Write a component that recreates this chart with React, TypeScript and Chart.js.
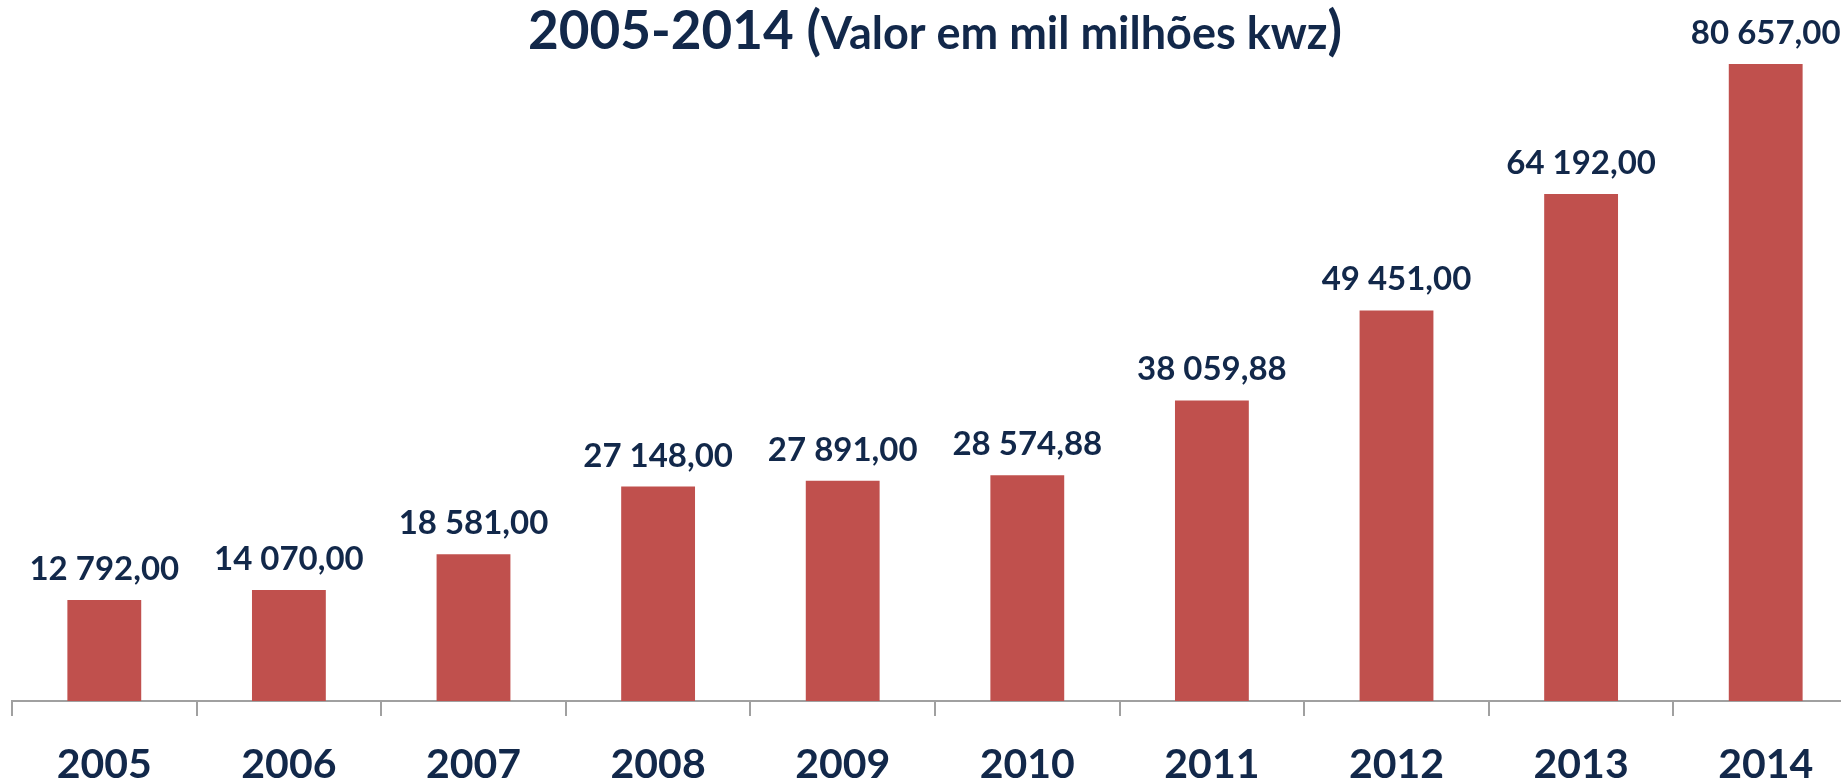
import React, { useEffect, useRef } from "react";
import { Chart, registerables } from "chart.js";

Chart.register(...registerables);

const years = ["2005", "2006", "2007", "2008", "2009", "2010", "2011", "2012", "2013", "2014"];
const values = [12792.0, 14070.0, 18581.0, 27148.0, 27891.0, 28574.88, 38059.88, 49451.0, 64192.0, 80657.0];
const titleMain = "2005-2014 (";
const titleSub = "Valor em mil milhões kwz";
const titleEnd = ")";

const TEXT = "#12284A";
const BAR = "#C0504D";
const FONT = "Lato, 'Open Sans', sans-serif";

function fmt(v: number): string {
  const [i, d] = v.toFixed(2).split(".");
  return i.replace(/\B(?=(\d{3})+(?!\d))/g, " ") + "," + d;
}

const labelPlugin = {
  id: "barLabels",
  afterDatasetsDraw(chart: any) {
    const ctx = chart.ctx;
    const meta = chart.getDatasetMeta(0);
    ctx.save();
    ctx.font = `bold 33px ${FONT}`;
    ctx.fillStyle = TEXT;
    ctx.textAlign = "center";
    ctx.textBaseline = "alphabetic";
    meta.data.forEach((bar: any, i: number) => {
      ctx.fillText(fmt(values[i]), bar.x, bar.y - 20);
    });
    ctx.restore();
  },
};

const titlePlugin = {
  id: "mixedTitle",
  afterDraw(chart: any) {
    const ctx = chart.ctx;
    const area = chart.chartArea;
    ctx.save();
    ctx.fillStyle = TEXT;
    ctx.textBaseline = "alphabetic";
    ctx.textAlign = "left";
    const big = `bold 53px ${FONT}`;
    const small = `bold 45px ${FONT}`;
    ctx.font = big;
    const w1 = ctx.measureText(titleMain).width;
    const w3 = ctx.measureText(titleEnd).width;
    ctx.font = small;
    const w2 = ctx.measureText(titleSub).width;
    const total = w1 + w2 + w3;
    let x = (area.left + area.right) / 2 - total / 2;
    const y = 49;
    ctx.font = big;
    ctx.fillText(titleMain, x, y);
    x += w1;
    ctx.font = small;
    ctx.fillText(titleSub, x, y);
    x += w2;
    ctx.font = big;
    ctx.fillText(titleEnd, x, y);
    ctx.restore();
  },
};

export default function App() {
  const ref = useRef<HTMLCanvasElement | null>(null);
  useEffect(() => {
    if (!ref.current) return;
    const chart = new Chart(ref.current, {
      type: "bar",
      data: {
        labels: years,
        datasets: [
          {
            data: values,
            backgroundColor: BAR,
            borderWidth: 0,
            barPercentage: 0.4,
            categoryPercentage: 1.0,
          },
        ],
      },
      options: {
        animation: false,
        responsive: false,
        maintainAspectRatio: false,
        layout: { padding: { left: 12, right: 2, top: 0, bottom: 0 } },
        plugins: {
          legend: { display: false },
          title: { display: false },
          tooltip: { enabled: false },
        },
        scales: {
          x: {
            offset: true,
            grid: {
              display: true,
              offset: true,
              drawOnChartArea: false,
              drawTicks: true,
              tickLength: 15,
              color: "#A0A0A0",
              lineWidth: 2,
            },
            border: { display: true, color: "#A0A0A0", width: 2 },
            ticks: {
              color: TEXT,
              font: { family: FONT, size: 41, weight: "bold" },
              padding: 24,
              maxRotation: 0,
              autoSkip: false,
            },
            afterFit: (scale: any) => {
              scale.height = 80;
            },
          },
          y: {
            display: false,
            min: 0,
            max: 88770,
          },
        },
      },
      plugins: [labelPlugin, titlePlugin],
    });
    return () => chart.destroy();
  }, []);
  return (
    <div
      style={{
        position: "fixed",
        left: 0,
        top: 0,
        width: 1841,
        height: 781,
        overflow: "hidden",
        background: "#FFFFFF",
      }}
    >
      <canvas ref={ref} width={1860} height={781} style={{ display: "block", width: 1860, height: 781 }} />
    </div>
  );
}
